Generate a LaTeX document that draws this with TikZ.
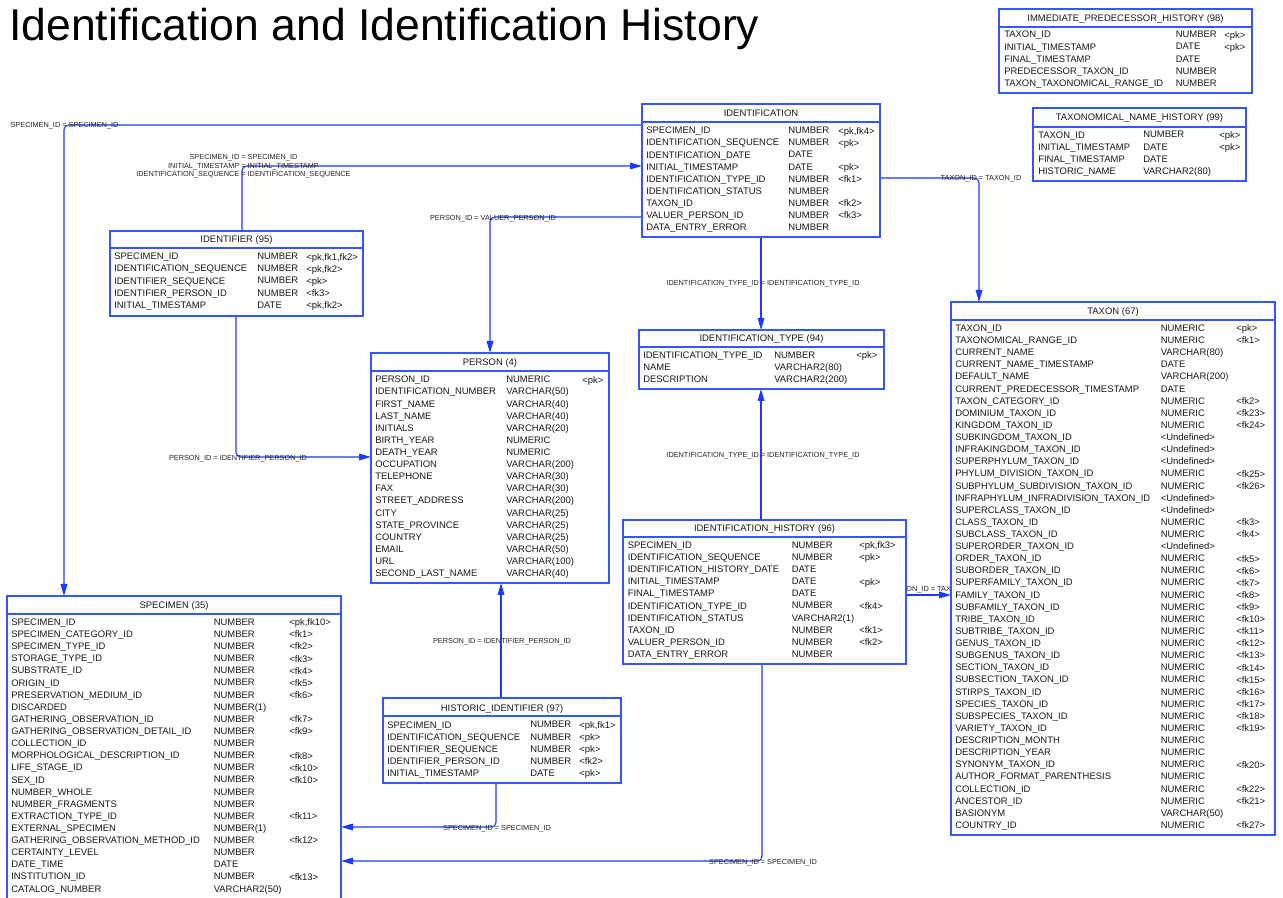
\documentclass[tikz,border=0pt]{standalone}
\usepackage{fontspec}
\newfontfamily\tblsans{Liberation Sans}
\usetikzlibrary{arrows.meta,fit,backgrounds}
\definecolor{fkblue}{RGB}{28,58,255}
\definecolor{boxblue}{RGB}{52,86,255}
\newcommand\tblfont{\tblsans\fontsize{7.1pt}{9.09pt}\selectfont}
\newcommand\lblfont{\tblsans\fontsize{5.5pt}{6.4pt}\selectfont}
\newcommand\titlefont{\tblsans\fontsize{33.4pt}{40pt}\selectfont}
\tikzset{
  tbl/.style={draw=boxblue, line width=0.85pt, fill=white, inner sep=0pt, outer sep=0pt},
  divline/.style={draw=boxblue, line width=0.85pt},
  fieldcol/.style={anchor=north west, inner sep=0pt, yshift=-1.5pt, align=left, font=\tblfont, text=black!90},
  hdr/.style={anchor=base, inner sep=0pt, font=\tblfont, text=black!90},
  fk/.style={draw=fkblue, line width=0.85pt, rounded corners=3.5pt, -{Triangle[length=9pt,width=5pt]}},
  rellabel/.style={inner sep=0pt, yshift=-1.5pt, font=\lblfont, align=center, text=black!85},
}
\begin{document}
\begin{tikzpicture}[x=0.75pt, y=-0.75pt]
\useasboundingbox (0,0) rectangle (1283,898);
\clip (0,0) rectangle (1283,898);

% title
\node[anchor=base west, inner sep=0pt, font=\titlefont] (title) at (9,41) {Identification and Identification History};

% IDENTIFICATION
\node[tbl, fit={(642,104) (880,237)}] (ident) {};
\draw[divline] (ident.west |- 0,122) -- (ident.east |- 0,122);
\node[hdr] (ident-h) at (761,116.4) {IDENTIFICATION};
\node[fieldcol] (ident-n) at (646,124.9) {SPECIMEN\_ID\\IDENTIFICATION\_SEQUENCE\\IDENTIFICATION\_DATE\\INITIAL\_TIMESTAMP\\IDENTIFICATION\_TYPE\_ID\\IDENTIFICATION\_STATUS\\TAXON\_ID\\VALUER\_PERSON\_ID\\DATA\_ENTRY\_ERROR};
\node[fieldcol] (ident-t) at (788,124.9) {NUMBER\\NUMBER\\DATE\\DATE\\NUMBER\\NUMBER\\NUMBER\\NUMBER\\NUMBER};
\node[fieldcol] (ident-k) at (838,124.9) {<pk,fk4>\\<pk>\\\strut\\<pk>\\<fk1>\\\strut\\<fk2>\\<fk3>};

% IMMEDIATE_PREDECESSOR_HISTORY
\node[tbl, fit={(999,9) (1252,93)}] (iph) {};
\draw[divline] (iph.west |- 0,27) -- (iph.east |- 0,27);
\node[hdr] (iph-h) at (1125.5,21.4) {IMMEDIATE\_PREDECESSOR\_HISTORY (98)};
\node[fieldcol] (iph-n) at (1004,29.1) {TAXON\_ID\\INITIAL\_TIMESTAMP\\FINAL\_TIMESTAMP\\PREDECESSOR\_TAXON\_ID\\TAXON\_TAXONOMICAL\_RANGE\_ID};
\node[fieldcol] (iph-t) at (1175.5,29.1) {NUMBER\\DATE\\DATE\\NUMBER\\NUMBER};
\node[fieldcol] (iph-k) at (1224,29.1) {<pk>\\<pk>};

% TAXONOMICAL_NAME_HISTORY
\node[tbl, fit={(1033,108) (1246,181)}] (tnh) {};
\draw[divline] (tnh.west |- 0,127) -- (tnh.east |- 0,127);
\node[hdr] (tnh-h) at (1139.5,120.9) {TAXONOMICAL\_NAME\_HISTORY (99)};
\node[fieldcol] (tnh-n) at (1038,129.2) {TAXON\_ID\\INITIAL\_TIMESTAMP\\FINAL\_TIMESTAMP\\HISTORIC\_NAME};
\node[fieldcol] (tnh-t) at (1143,129.2) {NUMBER\\DATE\\DATE\\VARCHAR2(80)};
\node[fieldcol] (tnh-k) at (1219,129.2) {<pk>\\<pk>};

% IDENTIFIER
\node[tbl, fit={(110,231) (363,316)}] (idf) {};
\draw[divline] (idf.west |- 0,248) -- (idf.east |- 0,248);
\node[hdr] (idf-h) at (236.5,243) {IDENTIFIER (95)};
\node[fieldcol] (idf-n) at (114,250.9) {SPECIMEN\_ID\\IDENTIFICATION\_SEQUENCE\\IDENTIFIER\_SEQUENCE\\IDENTIFIER\_PERSON\_ID\\INITIAL\_TIMESTAMP};
\node[fieldcol] (idf-t) at (257,250.9) {NUMBER\\NUMBER\\NUMBER\\NUMBER\\DATE};
\node[fieldcol] (idf-k) at (306,250.9) {<pk,fk1,fk2>\\<pk,fk2>\\<pk>\\<fk3>\\<pk,fk2>};

% PERSON
\node[tbl, fit={(371,353) (609,583)}] (person) {};
\draw[divline] (person.west |- 0,371) -- (person.east |- 0,371);
\node[hdr] (person-h) at (490,365.4) {PERSON (4)};
\node[fieldcol] (person-n) at (375,373.9) {PERSON\_ID\\IDENTIFICATION\_NUMBER\\FIRST\_NAME\\LAST\_NAME\\INITIALS\\BIRTH\_YEAR\\DEATH\_YEAR\\OCCUPATION\\TELEPHONE\\FAX\\STREET\_ADDRESS\\CITY\\STATE\_PROVINCE\\COUNTRY\\EMAIL\\URL\\SECOND\_LAST\_NAME};
\node[fieldcol] (person-t) at (506,373.9) {NUMERIC\\VARCHAR(50)\\VARCHAR(40)\\VARCHAR(40)\\VARCHAR(20)\\NUMERIC\\NUMERIC\\VARCHAR(200)\\VARCHAR(30)\\VARCHAR(30)\\VARCHAR(200)\\VARCHAR(25)\\VARCHAR(25)\\VARCHAR(25)\\VARCHAR(50)\\VARCHAR(100)\\VARCHAR(40)};
\node[fieldcol] (person-k) at (582,373.9) {<pk>};

% IDENTIFICATION_TYPE
\node[tbl, fit={(639,330) (884,389)}] (itype) {};
\draw[divline] (itype.west |- 0,347) -- (itype.east |- 0,347);
\node[hdr] (itype-h) at (761.5,341.9) {IDENTIFICATION\_TYPE (94)};
\node[fieldcol] (itype-n) at (643,349.5) {IDENTIFICATION\_TYPE\_ID\\NAME\\DESCRIPTION};
\node[fieldcol] (itype-t) at (774,349.5) {NUMBER\\VARCHAR2(80)\\VARCHAR2(200)};
\node[fieldcol] (itype-k) at (856,349.5) {<pk>};

% TAXON
\node[tbl, fit={(951,302) (1275,835)}] (taxon) {};
\draw[divline] (taxon.west |- 0,320) -- (taxon.east |- 0,320);
\node[hdr] (taxon-h) at (1113,314.4) {TAXON (67)};
\node[fieldcol] (taxon-n) at (955,322.6) {TAXON\_ID\\TAXONOMICAL\_RANGE\_ID\\CURRENT\_NAME\\CURRENT\_NAME\_TIMESTAMP\\DEFAULT\_NAME\\CURRENT\_PREDECESSOR\_TIMESTAMP\\TAXON\_CATEGORY\_ID\\DOMINIUM\_TAXON\_ID\\KINGDOM\_TAXON\_ID\\SUBKINGDOM\_TAXON\_ID\\INFRAKINGDOM\_TAXON\_ID\\SUPERPHYLUM\_TAXON\_ID\\PHYLUM\_DIVISION\_TAXON\_ID\\SUBPHYLUM\_SUBDIVISION\_TAXON\_ID\\INFRAPHYLUM\_INFRADIVISION\_TAXON\_ID\\SUPERCLASS\_TAXON\_ID\\CLASS\_TAXON\_ID\\SUBCLASS\_TAXON\_ID\\SUPERORDER\_TAXON\_ID\\ORDER\_TAXON\_ID\\SUBORDER\_TAXON\_ID\\SUPERFAMILY\_TAXON\_ID\\FAMILY\_TAXON\_ID\\SUBFAMILY\_TAXON\_ID\\TRIBE\_TAXON\_ID\\SUBTRIBE\_TAXON\_ID\\GENUS\_TAXON\_ID\\SUBGENUS\_TAXON\_ID\\SECTION\_TAXON\_ID\\SUBSECTION\_TAXON\_ID\\STIRPS\_TAXON\_ID\\SPECIES\_TAXON\_ID\\SUBSPECIES\_TAXON\_ID\\VARIETY\_TAXON\_ID\\DESCRIPTION\_MONTH\\DESCRIPTION\_YEAR\\SYNONYM\_TAXON\_ID\\AUTHOR\_FORMAT\_PARENTHESIS\\COLLECTION\_ID\\ANCESTOR\_ID\\BASIONYM\\COUNTRY\_ID};
\node[fieldcol] (taxon-t) at (1160.5,322.6) {NUMERIC\\NUMERIC\\VARCHAR(80)\\DATE\\VARCHAR(200)\\DATE\\NUMERIC\\NUMERIC\\NUMERIC\\<Undefined>\\<Undefined>\\<Undefined>\\NUMERIC\\NUMERIC\\<Undefined>\\<Undefined>\\NUMERIC\\NUMERIC\\<Undefined>\\NUMERIC\\NUMERIC\\NUMERIC\\NUMERIC\\NUMERIC\\NUMERIC\\NUMERIC\\NUMERIC\\NUMERIC\\NUMERIC\\NUMERIC\\NUMERIC\\NUMERIC\\NUMERIC\\NUMERIC\\NUMERIC\\NUMERIC\\NUMERIC\\NUMERIC\\NUMERIC\\NUMERIC\\VARCHAR(50)\\NUMERIC};
\node[fieldcol] (taxon-k) at (1236,322.6) {<pk>\\<fk1>\\\strut\\\strut\\\strut\\\strut\\<fk2>\\<fk23>\\<fk24>\\\strut\\\strut\\\strut\\<fk25>\\<fk26>\\\strut\\\strut\\<fk3>\\<fk4>\\\strut\\<fk5>\\<fk6>\\<fk7>\\<fk8>\\<fk9>\\<fk10>\\<fk11>\\<fk12>\\<fk13>\\<fk14>\\<fk15>\\<fk16>\\<fk17>\\<fk18>\\<fk19>\\\strut\\\strut\\<fk20>\\\strut\\<fk22>\\<fk21>\\\strut\\<fk27>};

% IDENTIFICATION_HISTORY
\node[tbl, fit={(623,520) (906,664)}] (ihist) {};
\draw[divline] (ihist.west |- 0,537) -- (ihist.east |- 0,537);
\node[hdr] (ihist-h) at (764.5,531.4) {IDENTIFICATION\_HISTORY (96)};
\node[fieldcol] (ihist-n) at (627.5,539.6) {SPECIMEN\_ID\\IDENTIFICATION\_SEQUENCE\\IDENTIFICATION\_HISTORY\_DATE\\INITIAL\_TIMESTAMP\\FINAL\_TIMESTAMP\\IDENTIFICATION\_TYPE\_ID\\IDENTIFICATION\_STATUS\\TAXON\_ID\\VALUER\_PERSON\_ID\\DATA\_ENTRY\_ERROR};
\node[fieldcol] (ihist-t) at (791.5,539.6) {NUMBER\\NUMBER\\DATE\\DATE\\DATE\\NUMBER\\VARCHAR2(1)\\NUMBER\\NUMBER\\NUMBER};
\node[fieldcol] (ihist-k) at (859,539.6) {<pk,fk3>\\<pk>\\\strut\\<pk>\\\strut\\<fk4>\\\strut\\<fk1>\\<fk2>};

% HISTORIC_IDENTIFIER
\node[tbl, fit={(383,698) (621,783)}] (hidf) {};
\draw[divline] (hidf.west |- 0,716) -- (hidf.east |- 0,716);
\node[hdr] (hidf-h) at (502,711) {HISTORIC\_IDENTIFIER (97)};
\node[fieldcol] (hidf-n) at (387,719.2) {SPECIMEN\_ID\\IDENTIFICATION\_SEQUENCE\\IDENTIFIER\_SEQUENCE\\IDENTIFIER\_PERSON\_ID\\INITIAL\_TIMESTAMP};
\node[fieldcol] (hidf-t) at (530,719.2) {NUMBER\\NUMBER\\NUMBER\\NUMBER\\DATE};
\node[fieldcol] (hidf-k) at (579,719.2) {<pk,fk1>\\<pk>\\<pk>\\<fk2>\\<pk>};

% SPECIMEN (runs past the lower edge)
\node[tbl, fit={(7,596) (341,906)}] (spec) {};
\draw[divline] (spec.west |- 0,614) -- (spec.east |- 0,614);
\node[hdr] (spec-h) at (174,608.7) {SPECIMEN (35)};
\node[fieldcol] (spec-n) at (11,616.6) {SPECIMEN\_ID\\SPECIMEN\_CATEGORY\_ID\\SPECIMEN\_TYPE\_ID\\STORAGE\_TYPE\_ID\\SUBSTRATE\_ID\\ORIGIN\_ID\\PRESERVATION\_MEDIUM\_ID\\DISCARDED\\GATHERING\_OBSERVATION\_ID\\GATHERING\_OBSERVATION\_DETAIL\_ID\\COLLECTION\_ID\\MORPHOLOGICAL\_DESCRIPTION\_ID\\LIFE\_STAGE\_ID\\SEX\_ID\\NUMBER\_WHOLE\\NUMBER\_FRAGMENTS\\EXTRACTION\_TYPE\_ID\\EXTERNAL\_SPECIMEN\\GATHERING\_OBSERVATION\_METHOD\_ID\\CERTAINTY\_LEVEL\\DATE\_TIME\\INSTITUTION\_ID\\CATALOG\_NUMBER};
\node[fieldcol] (spec-t) at (213.5,616.6) {NUMBER\\NUMBER\\NUMBER\\NUMBER\\NUMBER\\NUMBER\\NUMBER\\NUMBER(1)\\NUMBER\\NUMBER\\NUMBER\\NUMBER\\NUMBER\\NUMBER\\NUMBER\\NUMBER\\NUMBER\\NUMBER(1)\\NUMBER\\NUMBER\\DATE\\NUMBER\\VARCHAR2(50)};
\node[fieldcol] (spec-k) at (289,616.6) {<pk,fk10>\\<fk1>\\<fk2>\\<fk3>\\<fk4>\\<fk5>\\<fk6>\\\strut\\<fk7>\\<fk9>\\\strut\\<fk8>\\<fk10>\\<fk10>\\\strut\\\strut\\<fk11>\\\strut\\<fk12>\\\strut\\\strut\\<fk13>};

% relationships, kept behind the tables
\begin{pgfonlayer}{background}
\fill[white] (0,0) rectangle (1283,898);
\draw[fk] (ident.west |- 0,125) -| (64,0 |- spec.north);
\node[rellabel] (r-ident-spec) at (64.5,124) {SPECIMEN\_ID = SPECIMEN\_ID};

\draw[fk] (idf.north -| 242,0) |- (ident.west |- 0,166);
\node[rellabel] (r-idf-ident) at (243.5,164.5) {SPECIMEN\_ID = SPECIMEN\_ID\\INITIAL\_TIMESTAMP = INITIAL\_TIMESTAMP\\IDENTIFICATION\_SEQUENCE = IDENTIFICATION\_SEQUENCE};

\draw[fk] (ident.west |- 0,217) -| (490,0 |- person.north);
\node[rellabel] (r-ident-person) at (493,217) {PERSON\_ID = VALUER\_PERSON\_ID};

\draw[fk] (ident.south -| 761,0) -- (itype.north -| 761,0);
\node[rellabel] (r-ident-itype) at (763,282) {IDENTIFICATION\_TYPE\_ID = IDENTIFICATION\_TYPE\_ID};

\draw[fk] (ident.east |- 0,178) -| (979,0 |- taxon.north);
\node[rellabel] (r-ident-taxon) at (981,177) {TAXON\_ID = TAXON\_ID};

\draw[fk] (idf.south -| 236,0) |- (person.west |- 0,457);
\node[rellabel] (r-idf-person) at (238,457) {PERSON\_ID = IDENTIFIER\_PERSON\_ID};

\draw[fk] (ihist.north -| 761,0) -- (itype.south -| 761,0);
\node[rellabel] (r-ihist-itype) at (763,454) {IDENTIFICATION\_TYPE\_ID = IDENTIFICATION\_TYPE\_ID};

\draw[fk] (ihist.east |- 0,595) -- (taxon.west |- 0,595);
\node[rellabel] (r-ihist-taxon) at (933,588) {TAXON\_ID = TAXON\_ID};

\draw[fk] (hidf.north -| 501,0) -- (person.south -| 501,0);
\node[rellabel] (r-hidf-person) at (502,639.5) {PERSON\_ID = IDENTIFIER\_PERSON\_ID};

\draw[fk] (hidf.south -| 496,0) |- (spec.east |- 0,827);
\node[rellabel] (r-hidf-spec) at (497,826.5) {SPECIMEN\_ID = SPECIMEN\_ID};

\draw[fk] (ihist.south -| 762,0) |- (spec.east |- 0,861);
\node[rellabel] (r-ihist-spec) at (763,861) {SPECIMEN\_ID = SPECIMEN\_ID};
\end{pgfonlayer}
\end{tikzpicture}
\end{document}
